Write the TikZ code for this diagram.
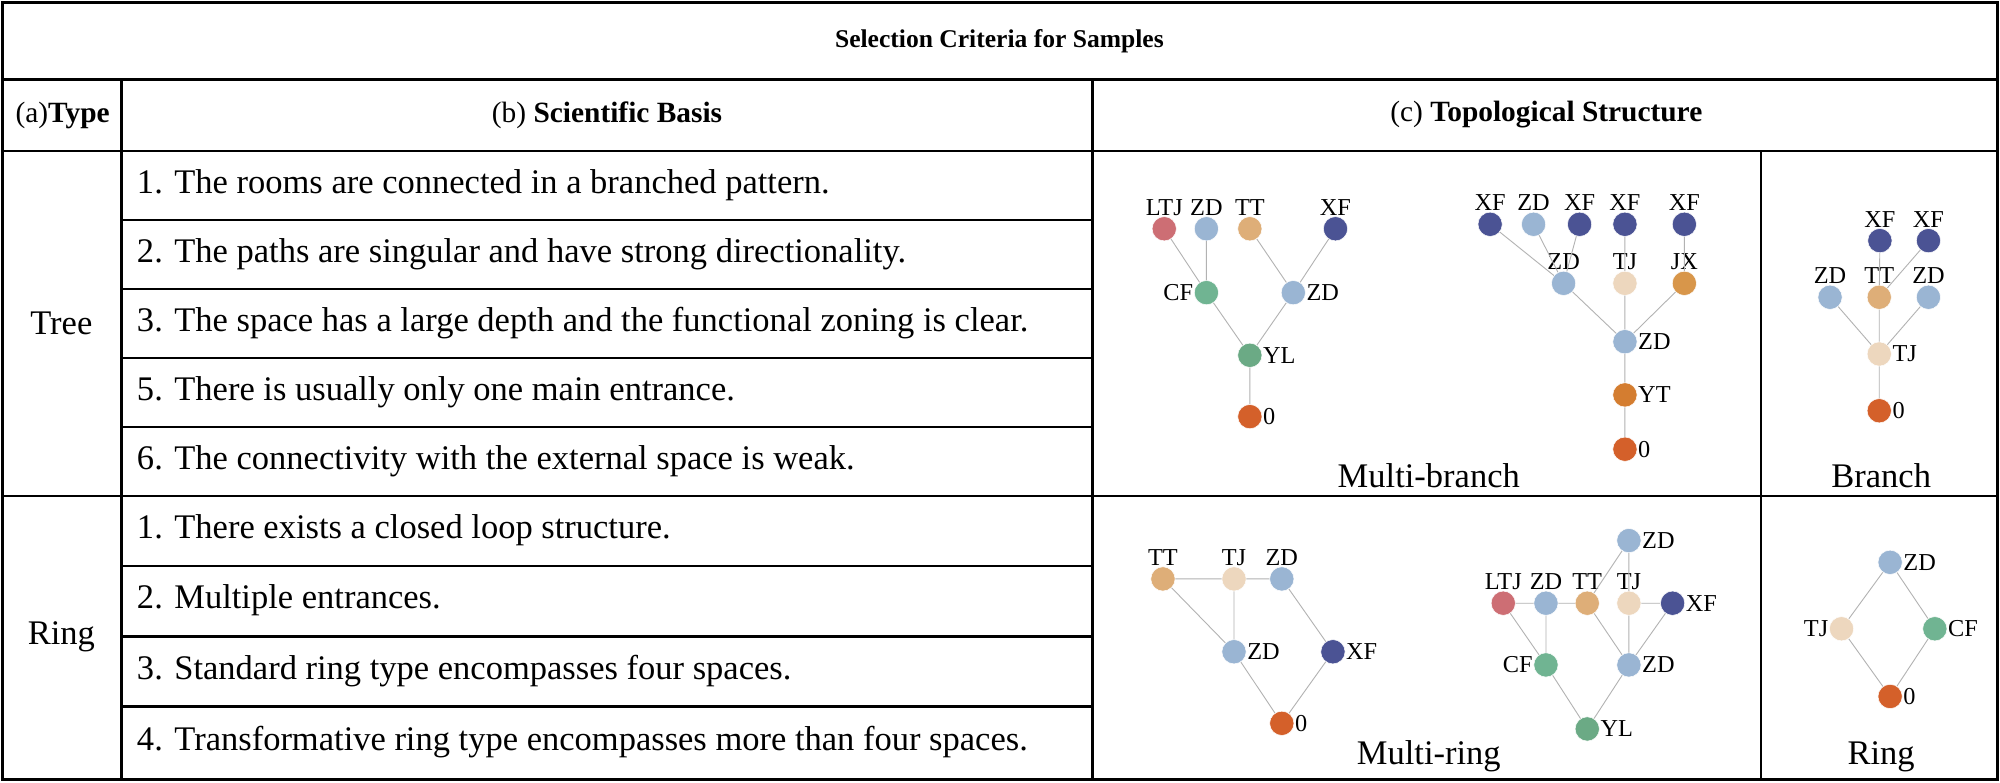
\documentclass[tikz,border=0pt]{standalone}
\usepackage{fontspec}
\setmainfont{Liberation Serif}
\begin{document}
\begin{tikzpicture}[x=1pt,y=-1pt,
  tl/.style={line width=2pt,black},
  txt/.style={font=\fontsize{20}{24}\selectfont,inner sep=0pt},
  hd/.style={font=\fontsize{23}{27}\selectfont,inner sep=0pt},
  big/.style={font=\fontsize{27}{31}\selectfont,inner sep=0pt},
  cell/.style={font=\fontsize{27}{31}\selectfont,inner sep=0pt,anchor=west},
  v/.style={circle,minimum size=19pt,inner sep=0pt,draw=white,line width=0.4pt,fill=#1},
  e/.style={draw=gray!60,line width=0.7pt},
  every label/.style={font=\fontsize{19}{21}\selectfont,inner sep=0.5pt,label distance=0pt}]
\definecolor{cLTJ}{HTML}{CD6E74}
\definecolor{cZD}{HTML}{9AB5D3}
\definecolor{cTT}{HTML}{DEAE78}
\definecolor{cXF}{HTML}{4B5394}
\definecolor{cCF}{HTML}{70B492}
\definecolor{cYL}{HTML}{6BAA85}
\definecolor{cO}{HTML}{D4602A}
\definecolor{cTJ}{HTML}{EDD7BE}
\definecolor{cJX}{HTML}{D8964A}
\definecolor{cYT}{HTML}{D47D30}
\useasboundingbox (0,0) rectangle (1565,612);
\fill[white] (0,0) rectangle (1565,612);
% table
\draw[tl] (2,2) rectangle (1563,610);
\draw[tl] (2,62) -- (1563,62);
\draw[tl] (2,118) -- (1563,118);
\draw[tl] (2,388) -- (1563,388);
\draw[tl] (95,62) -- (95,610);
\draw[tl] (855,62) -- (855,610);
\draw[tl] (1378,118) -- (1378,610);
\foreach \yy in {172,226,280,334,443,498,553} \draw[tl] (95,\yy) -- (855,\yy);
\node[txt] (title) at (782,32) {\textbf{Selection Criteria for Samples}};
\node[hd] (ha) at (49,90) {(a)\textbf{Type}};
\node[hd] (hb) at (475,90) {(b) \textbf{Scientific Basis}};
\node[hd] (hc) at (1210,90) {(c) \textbf{Topological Structure}};
\node[big] (tree) at (48,253) {Tree};
\node[big] (ring) at (48,498) {Ring};
\node[cell] (t1) at (107,145) {1. The rooms are connected in a branched pattern.};
\node[cell] (t2) at (107,199) {2. The paths are singular and have strong directionality.};
\node[cell] (t3) at (107,253) {3. The space has a large depth and the functional zoning is clear.};
\node[cell] (t5) at (107,307) {5. There is usually only one main entrance.};
\node[cell] (t6) at (107,361) {6. The connectivity with the external space is weak.};
\node[cell] (r1) at (107,415) {1. There exists a closed loop structure.};
\node[cell] (r2) at (107,470) {2. Multiple entrances.};
\node[cell] (r3) at (107,525) {3. Standard ring type encompasses four spaces.};
\node[cell] (r4) at (107,581) {4. Transformative ring type encompasses more than four spaces.};
\node[big] (lmb) at (1118,372) {Multi-branch};
\node[big] (lb) at (1472,372) {Branch};
\node[big] (lmr) at (1118,592) {Multi-ring};
\node[big] (lr) at (1472,592) {Ring};
% tree 1
\node[v=cLTJ,label=above:LTJ] (a1) at (911,179) {};
\node[v=cZD,label=above:ZD] (a2) at (944,179) {};
\node[v=cTT,label=above:TT] (a3) at (978,179) {};
\node[v=cXF,label=above:XF] (a4) at (1045,179) {};
\node[v=cCF,label=left:CF] (a5) at (944,229) {};
\node[v=cZD,label=right:ZD] (a6) at (1012,229) {};
\node[v=cYL,label=right:YL] (a7) at (978,278) {};
\node[v=cO,label=right:0] (a8) at (978,326) {};
\path[e] (a1)--(a5) (a2)--(a5) (a3)--(a6) (a4)--(a6) (a5)--(a7) (a6)--(a7) (a7)--(a8);
% tree 2
\node[v=cXF,label=above:XF] (b1) at (1166,175.5) {};
\node[v=cZD,label=above:ZD] (b2) at (1200,175.5) {};
\node[v=cXF,label=above:XF] (b3) at (1236,175.5) {};
\node[v=cXF,label=above:XF] (b4) at (1271.5,175.5) {};
\node[v=cXF,label=above:XF] (b5) at (1318,175.5) {};
\node[v=cZD,label=above:ZD] (b6) at (1223.5,221.7) {};
\node[v=cTJ,label=above:TJ] (b7) at (1271.5,221.7) {};
\node[v=cJX,label=above:JX] (b8) at (1318,221.7) {};
\node[v=cZD,label=right:ZD] (b9) at (1271.5,267.4) {};
\node[v=cYT,label=right:YT] (b10) at (1271.5,309) {};
\node[v=cO,label=right:0] (b11) at (1271.5,351.5) {};
\path[e] (b1)--(b6) (b2)--(b6) (b3)--(b6) (b4)--(b7) (b5)--(b8) (b6)--(b9) (b7)--(b9) (b8)--(b9) (b9)--(b10) (b10)--(b11);
% branch
\node[v=cXF,label=above:XF] (c1) at (1471,188.3) {};
\node[v=cXF,label=above:XF] (c2) at (1509,188.3) {};
\node[v=cZD,label=above:ZD] (c3) at (1432,232.6) {};
\node[v=cTT,label=above:TT] (c4) at (1470.5,232.6) {};
\node[v=cZD,label=above:ZD] (c5) at (1509,232.6) {};
\node[v=cTJ,label=right:TJ] (c6) at (1470.5,277) {};
\node[v=cO,label=right:0] (c7) at (1470.5,321.4) {};
\path[e] (c1)--(c4) (c2)--(c4) (c3)--(c6) (c4)--(c6) (c5)--(c6) (c6)--(c7);
% multi-ring left
\node[v=cTT,label=above:TT] (d1) at (910,453) {};
\node[v=cTJ,label=above:TJ] (d2) at (965.6,453) {};
\node[v=cZD,label=above:ZD] (d3) at (1003,453) {};
\node[v=cZD,label=right:ZD] (d4) at (965.6,510) {};
\node[v=cXF,label=right:XF] (d5) at (1043,510) {};
\node[v=cO,label=right:0] (d6) at (1003,566) {};
\path[e] (d1)--(d2) (d2)--(d3) (d1)--(d4) (d2)--(d4) (d3)--(d5) (d4)--(d6) (d5)--(d6);
% multi-ring right
\node[v=cZD,label=right:ZD] (f1) at (1274.6,423) {};
\node[v=cLTJ,label=above:LTJ] (f2) at (1176.3,472) {};
\node[v=cZD,label=above:ZD] (f3) at (1209.7,472) {};
\node[v=cTT,label=above:TT] (f4) at (1242,472) {};
\node[v=cTJ,label=above:TJ] (f5) at (1274.6,472) {};
\node[v=cXF,label=right:XF] (f6) at (1308.8,472) {};
\node[v=cCF,label=left:CF] (f7) at (1209.7,520.3) {};
\node[v=cZD,label=right:ZD] (f8) at (1274.6,520.3) {};
\node[v=cYL,label=right:YL] (f9) at (1242,570.4) {};
\path[e] (f2)--(f3) (f3)--(f4) (f1)--(f4) (f1)--(f5) (f5)--(f6) (f2)--(f7) (f3)--(f7) (f4)--(f8) (f5)--(f8) (f6)--(f8) (f7)--(f9) (f8)--(f9);
% ring
\node[v=cZD,label=right:ZD] (g1) at (1479,440) {};
\node[v=cTJ,label=left:TJ] (g2) at (1441,492) {};
\node[v=cCF,label=right:CF] (g3) at (1514,492) {};
\node[v=cO,label=right:0] (g4) at (1479,545) {};
\path[e] (g1)--(g2) (g1)--(g3) (g2)--(g4) (g3)--(g4);
\end{tikzpicture}
\end{document}
